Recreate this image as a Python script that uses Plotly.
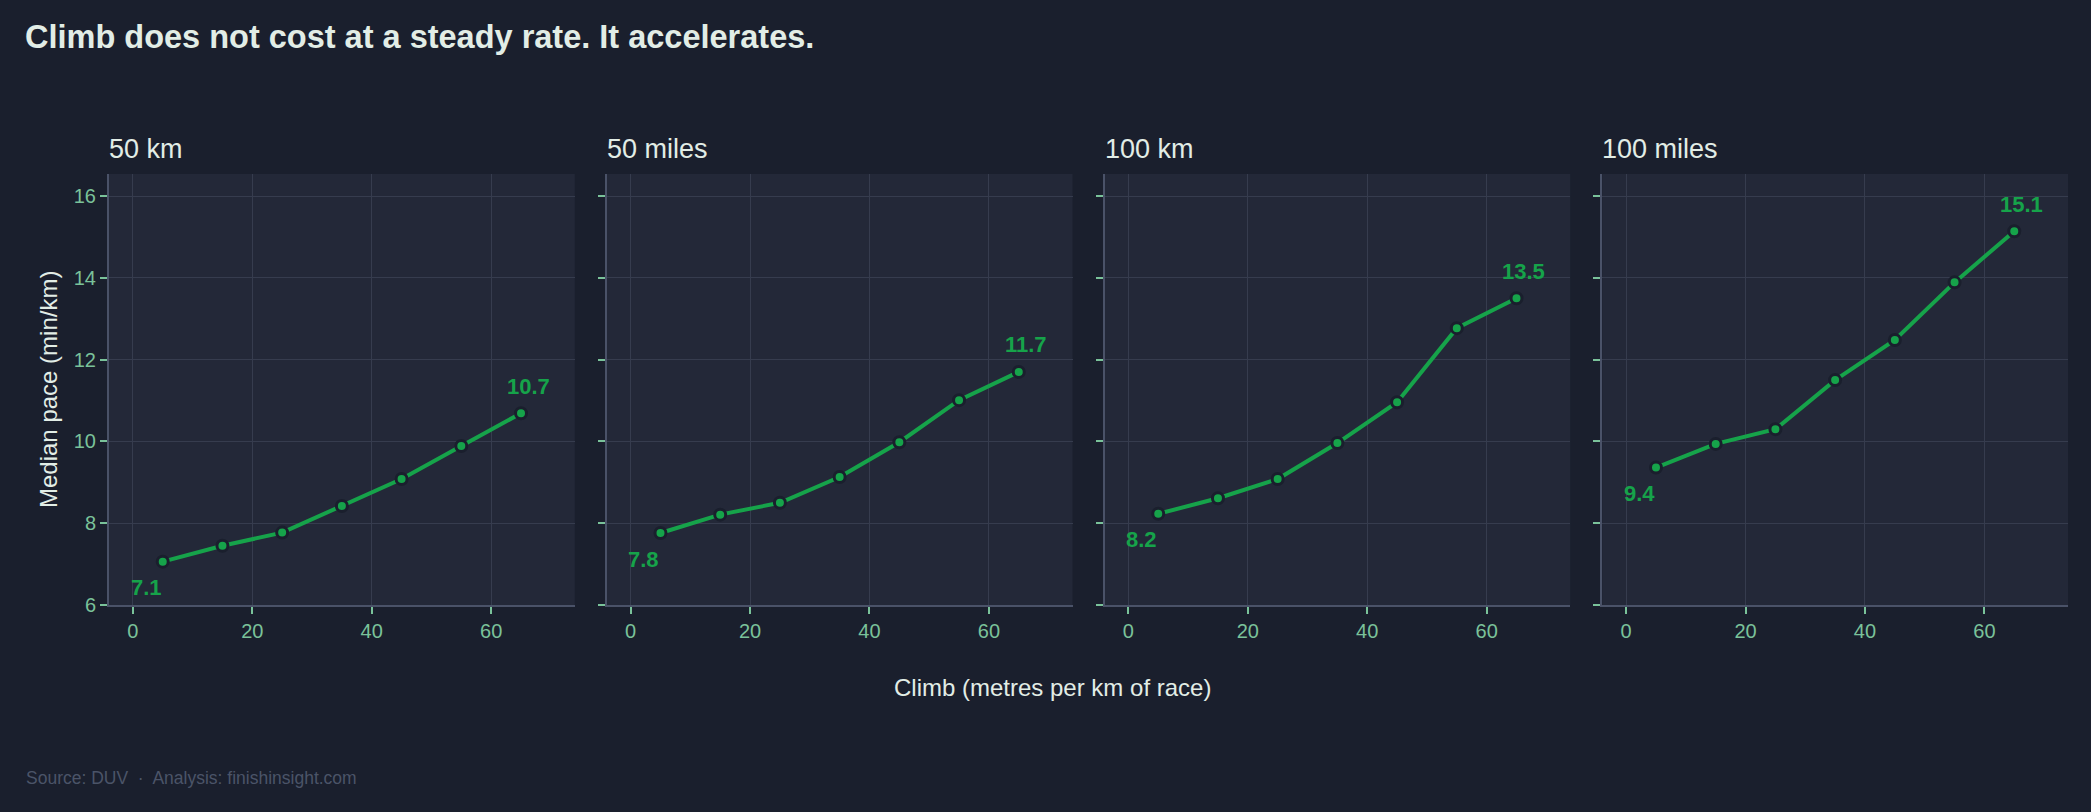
import plotly.graph_objects as go
from plotly.subplots import make_subplots

# ---- data ----
climb = [5, 15, 25, 35, 45, 55, 65]
distances = ["50 km", "50 miles", "100 km", "100 miles"]
pace_50km = [7.06, 7.45, 7.77, 8.42, 9.08, 9.89, 10.69]
pace_50mi = [7.76, 8.21, 8.50, 9.13, 9.98, 11.01, 11.70]
pace_100km = [8.23, 8.61, 9.08, 9.96, 10.96, 12.77, 13.50]
pace_100mi = [9.36, 9.94, 10.30, 11.50, 12.48, 13.89, 15.14]
series = [pace_50km, pace_50mi, pace_100km, pace_100mi]
x_ticks = [0, 20, 40, 60]
y_ticks = [6, 8, 10, 12, 14, 16]

# ---- style ----
W, H = 2091, 812
ML, MR, MT, MB = 109, 23, 174, 207
PAPER = "#1a1f2d"
PLOT = "#232838"
GRID = "#363c4e"
AXIS = "#4a5268"
TICK = "#7ac29a"
GREEN = "#16a34a"
LIGHT = "#e2ede6"
FONT = "Liberation Sans, Arial, sans-serif"

pw = W - ML - MR
ph = H - MT - MB
def px_x(p):
    return (p - ML) / pw
def px_y(p):
    return (H - MB - p) / ph

fig = make_subplots(rows=1, cols=4, horizontal_spacing=32 / pw)

for i, (name, vals) in enumerate(zip(distances, series)):
    col = i + 1
    fig.add_trace(
        go.Scatter(
            x=climb, y=vals, mode="lines+markers",
            line=dict(color=GREEN, width=4),
            marker=dict(color=GREEN, size=11, line=dict(color=PAPER, width=3)),
            showlegend=False, hoverinfo="skip",
        ),
        row=1, col=col,
    )
    xa = "x" if i == 0 else f"x{col}"
    ya = "y" if i == 0 else f"y{col}"
    # first / last value labels
    fig.add_annotation(
        x=climb[0], y=vals[0], xref=xa, yref=ya,
        text=f"<b>{vals[0]:.1f}</b>", showarrow=False,
        xanchor="right", yanchor="middle", xshift=1, yshift=-26,
        font=dict(family=FONT, size=22, color=GREEN),
    )
    fig.add_annotation(
        x=climb[-1], y=vals[-1], xref=xa, yref=ya,
        text=f"<b>{vals[-1]:.1f}</b>", showarrow=False,
        xanchor="center", yanchor="middle", xshift=7, yshift=27,
        font=dict(family=FONT, size=22, color=GREEN),
    )
    # panel title
    fig.add_annotation(
        x=0, y=1, xref=f"{xa} domain", yref=f"{ya} domain",
        text=name, showarrow=False, xanchor="left", yanchor="bottom",
        yshift=8, xshift=-2,
        font=dict(family=FONT, size=27, color=LIGHT),
    )
    fig.update_xaxes(
        row=1, col=col, range=[-4, 74], tickvals=x_ticks,
        showgrid=True, gridcolor=GRID, gridwidth=1, zeroline=False,
        showline=True, linecolor=AXIS, linewidth=2,
        ticks="outside", ticklen=7, tickwidth=2, tickcolor=TICK,
        tickfont=dict(family=FONT, size=20, color=TICK),
    )
    fig.update_yaxes(
        row=1, col=col, range=[6, 16.54], tickvals=y_ticks,
        showgrid=True, gridcolor=GRID, gridwidth=1, zeroline=False,
        showline=True, linecolor=AXIS, linewidth=2,
        ticks="outside", ticklen=7, tickwidth=2, tickcolor=TICK,
        showticklabels=(i == 0),
        tickfont=dict(family=FONT, size=20, color=TICK),
    )

# chart title
fig.add_annotation(
    x=px_x(23), y=px_y(37), xref="paper", yref="paper",
    text="<b>Climb does not cost at a steady rate. It accelerates.</b>",
    showarrow=False, xanchor="left", yanchor="middle",
    font=dict(family=FONT, size=32.5, color=LIGHT),
)
# axis titles
fig.add_annotation(
    x=px_x(48), y=px_y(390), xref="paper", yref="paper",
    text="Median pace (min/km)", textangle=-90, showarrow=False,
    xanchor="center", yanchor="middle",
    font=dict(family=FONT, size=24, color=LIGHT),
)
fig.add_annotation(
    x=px_x(1052), y=px_y(687), xref="paper", yref="paper",
    text="Climb (metres per km of race)", showarrow=False,
    xanchor="center", yanchor="middle",
    font=dict(family=FONT, size=24, color=LIGHT),
)
# source
fig.add_annotation(
    x=px_x(24), y=px_y(778), xref="paper", yref="paper",
    text="Source: DUV  \u00b7  Analysis: finishinsight.com", showarrow=False,
    xanchor="left", yanchor="middle",
    font=dict(family=FONT, size=17.5, color="#4b5468"),
)

fig.update_layout(
    width=W, height=H, autosize=False,
    margin=dict(l=ML, r=MR, t=MT, b=MB, pad=0),
    paper_bgcolor=PAPER, plot_bgcolor=PLOT,
    font=dict(family=FONT, color=LIGHT),
    showlegend=False,
)

fig.write_html(
    "out.html",
    config={"displayModeBar": False},
    post_script="document.body.style.margin='0';document.body.style.background='" + PAPER + "';",
)
